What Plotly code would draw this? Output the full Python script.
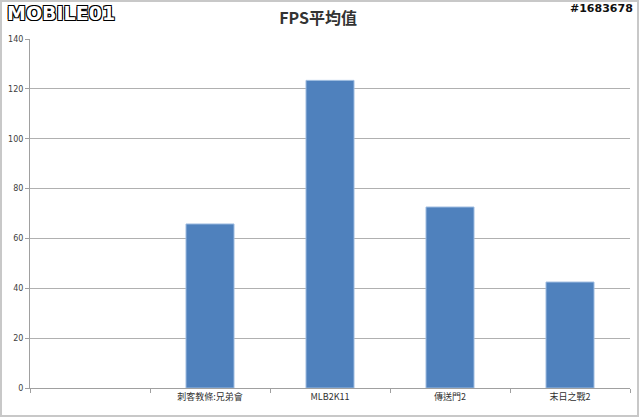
import plotly.graph_objects as go

categories = [" ", "刺客教條:兄弟會", "MLB2K11", "傳送門2", "末日之戰2"]
fps_values = [None, 65.8, 123.4, 72.6, 42.5]
y_ticks = [0, 20, 40, 60, 80, 100, 120, 140]

fig = go.Figure()
fig.add_trace(go.Bar(
    x=categories, y=fps_values,
    marker=dict(color="#4F81BD", line=dict(color="#9DBBE0", width=1)),
    width=0.4,
))

fig.update_layout(
    width=640, height=420,
    margin=dict(l=30, r=10, t=39, b=32, autoexpand=False),
    paper_bgcolor="white", plot_bgcolor="white",
    showlegend=False,
    font=dict(family="DejaVu Sans", size=8, color="#404040"),
    title=dict(text="<b>FPS平均值</b>", x=0.497, xanchor="center", y=0.957, yanchor="middle",
               font=dict(family="Noto Sans CJK TC", size=16, color="#333333")),
)
fig.update_xaxes(
    type="category", range=[-0.5, 4.5], tickson="boundaries", automargin=False,
    ticks="outside", ticklen=4, tickcolor="#A0A0A0",
    showline=True, linecolor="#A0A0A0", linewidth=1,
    showgrid=False,
    tickfont=dict(family="Noto Sans CJK TC", size=9, color="#303030"),
)
fig.update_yaxes(
    range=[0, 140], tickvals=y_ticks, automargin=False,
    ticks="outside", ticklen=4, tickcolor="#A0A0A0",
    showline=True, linecolor="#A0A0A0", linewidth=1,
    showgrid=True, gridcolor="#B0B0B0", gridwidth=1,
    zeroline=False,
    tickfont=dict(family="DejaVu Sans", size=8, color="#404040"),
)

# outer frame of chart
fig.add_shape(type="rect", xref="paper", yref="paper",
              x0=(1 - 30) / 600, x1=(638 - 30) / 600,
              y0=(388 - 416) / 349, y1=(388 - 1) / 349,
              line=dict(color="#C8C8C8", width=2), fillcolor="rgba(0,0,0,0)", layer="below")

# watermarks
outline_black = "1px 1px 0 #000, -1px -1px 0 #000, 1px -1px 0 #000, -1px 1px 0 #000"
outline_white = "1px 1px 0 #fff, -1px -1px 0 #fff, 1px -1px 0 #fff, -1px 1px 0 #fff"
fig.add_annotation(text="<b>MOBILE01</b>", xref="paper", yref="paper",
                   x=(5 - 30) / 600, y=(388 - 13) / 349, xanchor="left", yanchor="middle",
                   showarrow=False,
                   font=dict(family="DejaVu Sans", size=19, color="#ffffff", shadow=outline_black))
fig.add_annotation(text="<b>#1683678</b>", xref="paper", yref="paper",
                   x=(635 - 30) / 600, y=(388 - 9) / 349, xanchor="right", yanchor="middle",
                   showarrow=False,
                   font=dict(family="DejaVu Sans", size=11, color="#111111", shadow=outline_white))

fig.write_html("out.html", config={"displayModeBar": False},
               post_script="document.body.style.margin='0';document.body.style.overflow='hidden';")
